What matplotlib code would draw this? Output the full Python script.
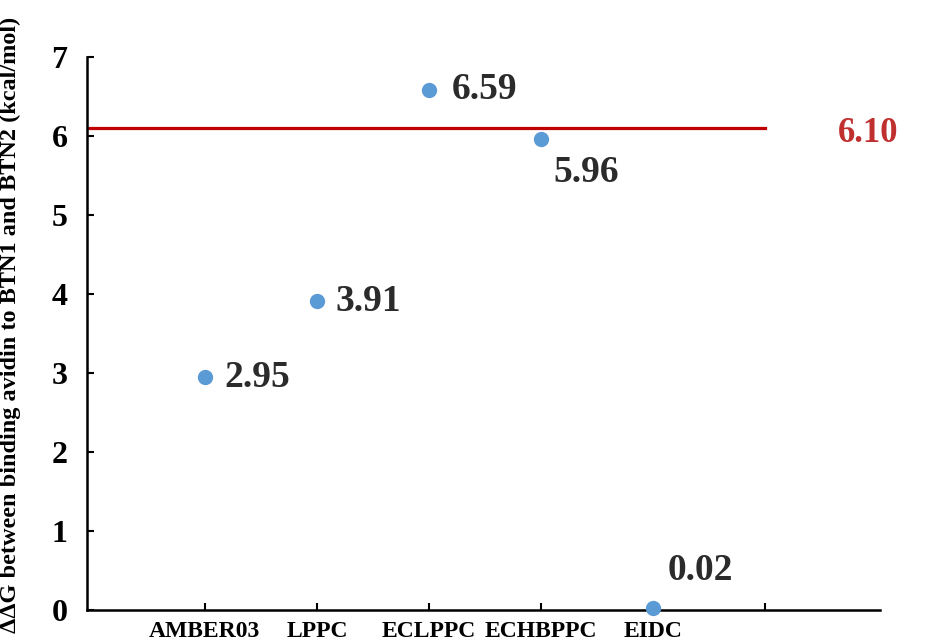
import matplotlib.pyplot as plt

methods = ['AMBER03', 'LPPC', 'ECLPPC', 'ECHBPPC', 'EIDC']
ddg = [2.95, 3.91, 6.59, 5.96, 0.02]
threshold = 6.10

plt.rcParams['font.family'] = ['Liberation Serif', 'DejaVu Serif']
plt.rcParams['font.weight'] = 'bold'

fig = plt.figure(figsize=(9.31, 6.43), dpi=100)
ax = fig.add_axes([0.0935, 0.0513, 0.8515, 0.8597])

x = list(range(1, len(methods) + 1))
ax.scatter(x, ddg, s=100, color='#5B9BD5', zorder=3, clip_on=False)
ax.plot([-0.05, 6], [threshold, threshold], color='#C00000', lw=2.3, zorder=2)

# value labels: right of the point, except the last two
offsets = [(14, 0), (13, 0), (16, 0), (9, -24), (10, 27)]
for xi, yi, (dx, dy) in zip(x, ddg, offsets):
    ax.annotate(f'{yi:.2f}', (xi, yi), xytext=(dx, dy), textcoords='offset points',
                ha='left', va='center', fontsize=27, fontweight='bold', color='#2b2b2b')

ax.annotate(f'{threshold:.2f}', (6, threshold), xytext=(52, -4), textcoords='offset points',
            ha='left', va='center', fontsize=25, fontweight='bold', color='#C0302F',
            annotation_clip=False)

ax.set_xlim(-0.05, 7.02)
ax.set_ylim(0, 7)
ax.set_xticks(range(1, 7))
ax.set_xticklabels(methods + [''], fontsize=17, fontweight='bold')
ax.set_yticks(range(0, 8))
ax.set_yticklabels([str(v) for v in range(0, 8)], fontsize=23, fontweight='bold')
ax.tick_params(axis='both', direction='in', length=5, width=1.5)
ax.tick_params(axis='x', pad=8)
ax.tick_params(axis='y', pad=14)

for side in ['top', 'right']:
    ax.spines[side].set_visible(False)
for side in ['left', 'bottom']:
    ax.spines[side].set_linewidth(1.8)

ax.set_ylabel('ΔΔG between binding avidin to BTN1 and BTN2 (kcal/mol)',
              fontsize=17.5, fontweight='bold')
ax.yaxis.set_label_coords(-0.083, 0.515)

fig.savefig('out.png', dpi=100)
